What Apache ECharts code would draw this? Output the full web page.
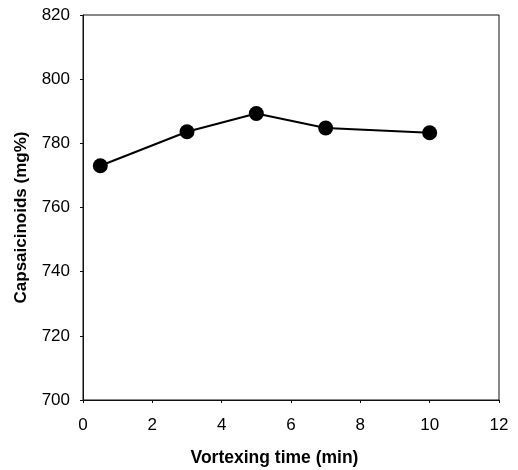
<!DOCTYPE html>
<html><head><meta charset="utf-8">
<script src="https://cdn.jsdelivr.net/npm/echarts@6/dist/echarts.min.js"></script>
<style>html,body{margin:0;padding:0;background:#fff}#c{width:518px;height:470px}</style>
</head><body><div id="c"></div>
<script>
const times = [0.5, 3, 5, 7, 10];
const capsaicinoids = [773, 783.6, 789.3, 784.8, 783.3];
const xTicks = [0, 2, 4, 6, 8, 10, 12];
const yTicks = [700, 720, 740, 760, 780, 800, 820];

const chart = echarts.init(document.getElementById('c'));
const font = 'Liberation Sans, Arial, sans-serif';
chart.setOption({
  animation: false,
  backgroundColor: '#fff',
  grid: {left: 83, right: 19, top: 15, bottom: 70, show: true, borderColor: '#111', borderWidth: 1,
         containLabel: false, outerBoundsMode: 'none'},
  xAxis: {
    type: 'value', min: xTicks[0], max: xTicks[xTicks.length-1], interval: 2,
    name: 'Vortexing time (min)', nameLocation: 'middle', nameGap: 49,
    nameTextStyle: {fontFamily: font, fontSize: 17.5, fontWeight: 'bold', color: '#000', padding: [0, 33, 0, 0]},
    axisLine: {show: true, lineStyle: {color: '#111', width: 1}},
    axisTick: {show: true, length: 3, lineStyle: {color: '#111'}},
    axisLabel: {fontFamily: font, fontSize: 17, color: '#000', margin: 17},
    splitLine: {show: false}
  },
  yAxis: {
    type: 'value', min: yTicks[0], max: yTicks[yTicks.length-1], interval: 20,
    name: 'Capsaicinoids (mg%)', nameLocation: 'middle', nameGap: 53,
    nameTextStyle: {fontFamily: font, fontSize: 17, fontWeight: 'bold', color: '#000', padding: [0, 20, 0, 0]},
    axisLine: {show: true, lineStyle: {color: '#111', width: 1}},
    axisTick: {show: true, length: 3, lineStyle: {color: '#111'}},
    axisLabel: {fontFamily: font, fontSize: 17, color: '#000', margin: 13},
    splitLine: {show: false}
  },
  series: [{
    type: 'line',
    data: times.map((t, i) => [t, capsaicinoids[i]]),
    symbol: 'circle', symbolSize: 15,
    itemStyle: {color: '#000'},
    lineStyle: {color: '#000', width: 2}
  }]
});
</script></body></html>
